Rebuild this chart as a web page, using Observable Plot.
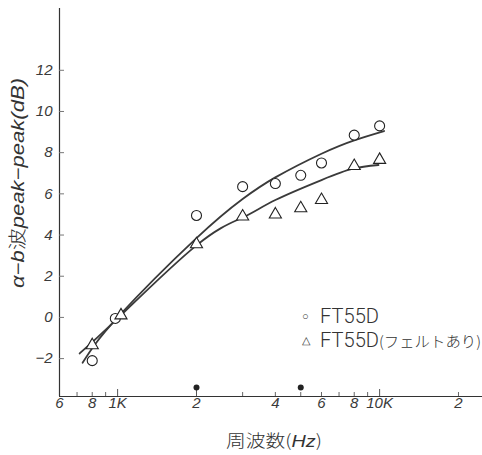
<!DOCTYPE html>
<html><head><meta charset="utf-8">
<script src="https://cdn.jsdelivr.net/npm/d3@7"></script>
<script src="https://cdn.jsdelivr.net/npm/@observablehq/plot@0.6"></script>
<style>
body{margin:0;background:#fff;}
#wrap{position:relative;width:482px;height:455px;}
</style></head><body><div id="wrap"></div>
<script>
const freqCircle = [800, 980, 2000, 3000, 4000, 5000, 6000, 8000, 10000];
const valCircle  = [-2.1, -0.05, 4.95, 6.35, 6.5, 6.9, 7.5, 8.85, 9.3];
const freqTri    = [800, 1030, 2000, 3000, 4000, 5000, 6000, 8000, 10000];
const valTri     = [-1.35, 0.1, 3.55, 4.9, 5.0, 5.3, 5.7, 7.35, 7.65];
const fitCircleF = [735, 1000, 2000, 3000, 4000, 6000, 8000, 10400];
const fitCircleV = [-2.2, 0.0, 3.85, 5.75, 6.8, 7.95, 8.6, 9.05];
const fitTriF    = [716, 1000, 2000, 3000, 4000, 6000, 7900, 9900];
const fitTriV    = [-1.75, -0.05, 3.5, 4.85, 5.7, 6.67, 7.22, 7.4];
const markerF    = [2000, 5000];
const markerV    = [-3.4, -3.4];
const xTickValues = [600, 800, 1000, 2000, 4000, 6000, 8000, 10000, 20000];
const xTickLabels = ["6", "8", "1K", "2", "4", "6", "8", "10K", "2"];
const xMinorTicks = [700, 800, 900, 3000, 4000, 5000, 6000, 7000, 8000, 9000, 20000];
const xMajorTicks = [1000, 2000, 10000];
const yTicks = [-2, 0, 2, 4, 6, 8, 10, 12];
const seriesNames = ["FT55D", "FT55D"];
const seriesNotes = ["", "(フェルトあり)"];
const xDomain = [600, 24700];
const yDomain = [-3.84, 15];

const zip = (a, b) => a.map((x, i) => ({x, y: b[i]}));
const ink = "#333";

const chart = Plot.plot({
  width: 482, height: 455,
  marginLeft: 59, marginRight: 0, marginTop: 8, marginBottom: 59,
  x: {type: "log", domain: xDomain},
  y: {domain: yDomain},
  style: {fontFamily: "'Liberation Sans', Arial, sans-serif", fontStyle: "italic", fontSize: "15px", color: "#3a3a3a", background: "transparent"},
  marks: [
    Plot.ruleX([xDomain[0]], {stroke: ink, strokeWidth: 1.2}),
    Plot.ruleY([yDomain[0]], {stroke: ink, strokeWidth: 1.2}),
    Plot.axisX(xMinorTicks, {tickSize: -4, tickFormat: () => "", label: null, stroke: "#666"}),
    Plot.axisX(xMajorTicks, {tickSize: -7, tickFormat: () => "", label: null, stroke: "#555"}),
    Plot.text(xTickValues, {x: d => d, frameAnchor: "bottom", dy: 11, text: (d, i) => xTickLabels[i], fontSize: 15, fontStyle: "italic", fill: "#3a3a3a"}),
    Plot.axisY(yTicks, {tickSize: -5, tickFormat: () => "", label: null, stroke: "#777"}),
    Plot.axisY(yTicks, {tickSize: 0, tickPadding: 7, tickFormat: d => d < 0 ? "−" + (-d) : String(d), label: null, fontSize: 15}),
    Plot.line(zip(fitCircleF, fitCircleV), {x: "x", y: "y", curve: "natural", stroke: "#3a3a3a", strokeWidth: 1.8}),
    Plot.line(zip(fitTriF, fitTriV), {x: "x", y: "y", curve: "natural", stroke: "#3a3a3a", strokeWidth: 1.8}),
    Plot.dot(zip(freqCircle, valCircle), {x: "x", y: "y", r: 5, stroke: "#222", fill: "white", strokeWidth: 1.1}),
    Plot.dot(zip(freqTri, valTri), {x: "x", y: "y", r: 4.5, symbol: "triangle", stroke: "#222", fill: "white", strokeWidth: 1.1}),
    Plot.dot(zip(markerF, markerV), {x: "x", y: "y", r: 3, fill: "#222", stroke: "none"})
  ]
});

const wrap = document.getElementById("wrap");
wrap.appendChild(chart);
const svg = d3.select(chart);
const jp = "'Noto Sans CJK JP', sans-serif";
// x axis title
const xt = svg.append("text").attr("x", 226).attr("y", 447).attr("text-anchor", "start")
  .attr("font-size", 17).attr("fill", ink).attr("font-style", "normal")
  .attr("textLength", 96).attr("lengthAdjust", "spacingAndGlyphs");
xt.append("tspan").attr("font-family", jp).attr("font-weight", 300).text("周波数(");
xt.append("tspan").attr("font-style", "italic").text("Hz");
xt.append("tspan").attr("font-family", jp).attr("font-weight", 300).text(")");
// y axis title
const yt = svg.append("text").attr("transform", "translate(24,288) rotate(-90)").attr("text-anchor", "start")
  .attr("font-size", 18).attr("fill", ink).attr("font-style", "italic")
  .attr("textLength", 210).attr("lengthAdjust", "spacingAndGlyphs");
yt.append("tspan").text("α−b");
yt.append("tspan").attr("font-style", "normal").attr("font-family", jp).attr("font-weight", 300).text("波");
yt.append("tspan").text("peak−peak(dB)");
// legend
const lg = svg.append("g").attr("fill", ink).attr("font-style", "normal").attr("text-anchor", "start")
  .attr("font-family", "Roboto, 'Liberation Sans', sans-serif").attr("font-weight", 300);
seriesNames.forEach((name, i) => {
  const yb = 323 + i * 24;
  lg.append("text").attr("x", 302).attr("y", yb - 3).attr("font-size", 11).text(i === 0 ? "○" : "△");
  lg.append("text").attr("x", 320).attr("y", yb).attr("font-size", 21)
    .attr("textLength", 59).attr("lengthAdjust", "spacingAndGlyphs").text(name);
  if (seriesNotes[i]) {
    lg.append("text").attr("x", 379).attr("y", yb).attr("font-size", 15).attr("font-family", jp)
      .attr("textLength", 102).attr("lengthAdjust", "spacingAndGlyphs").text(seriesNotes[i]);
  }
});
</script>
</body></html>
